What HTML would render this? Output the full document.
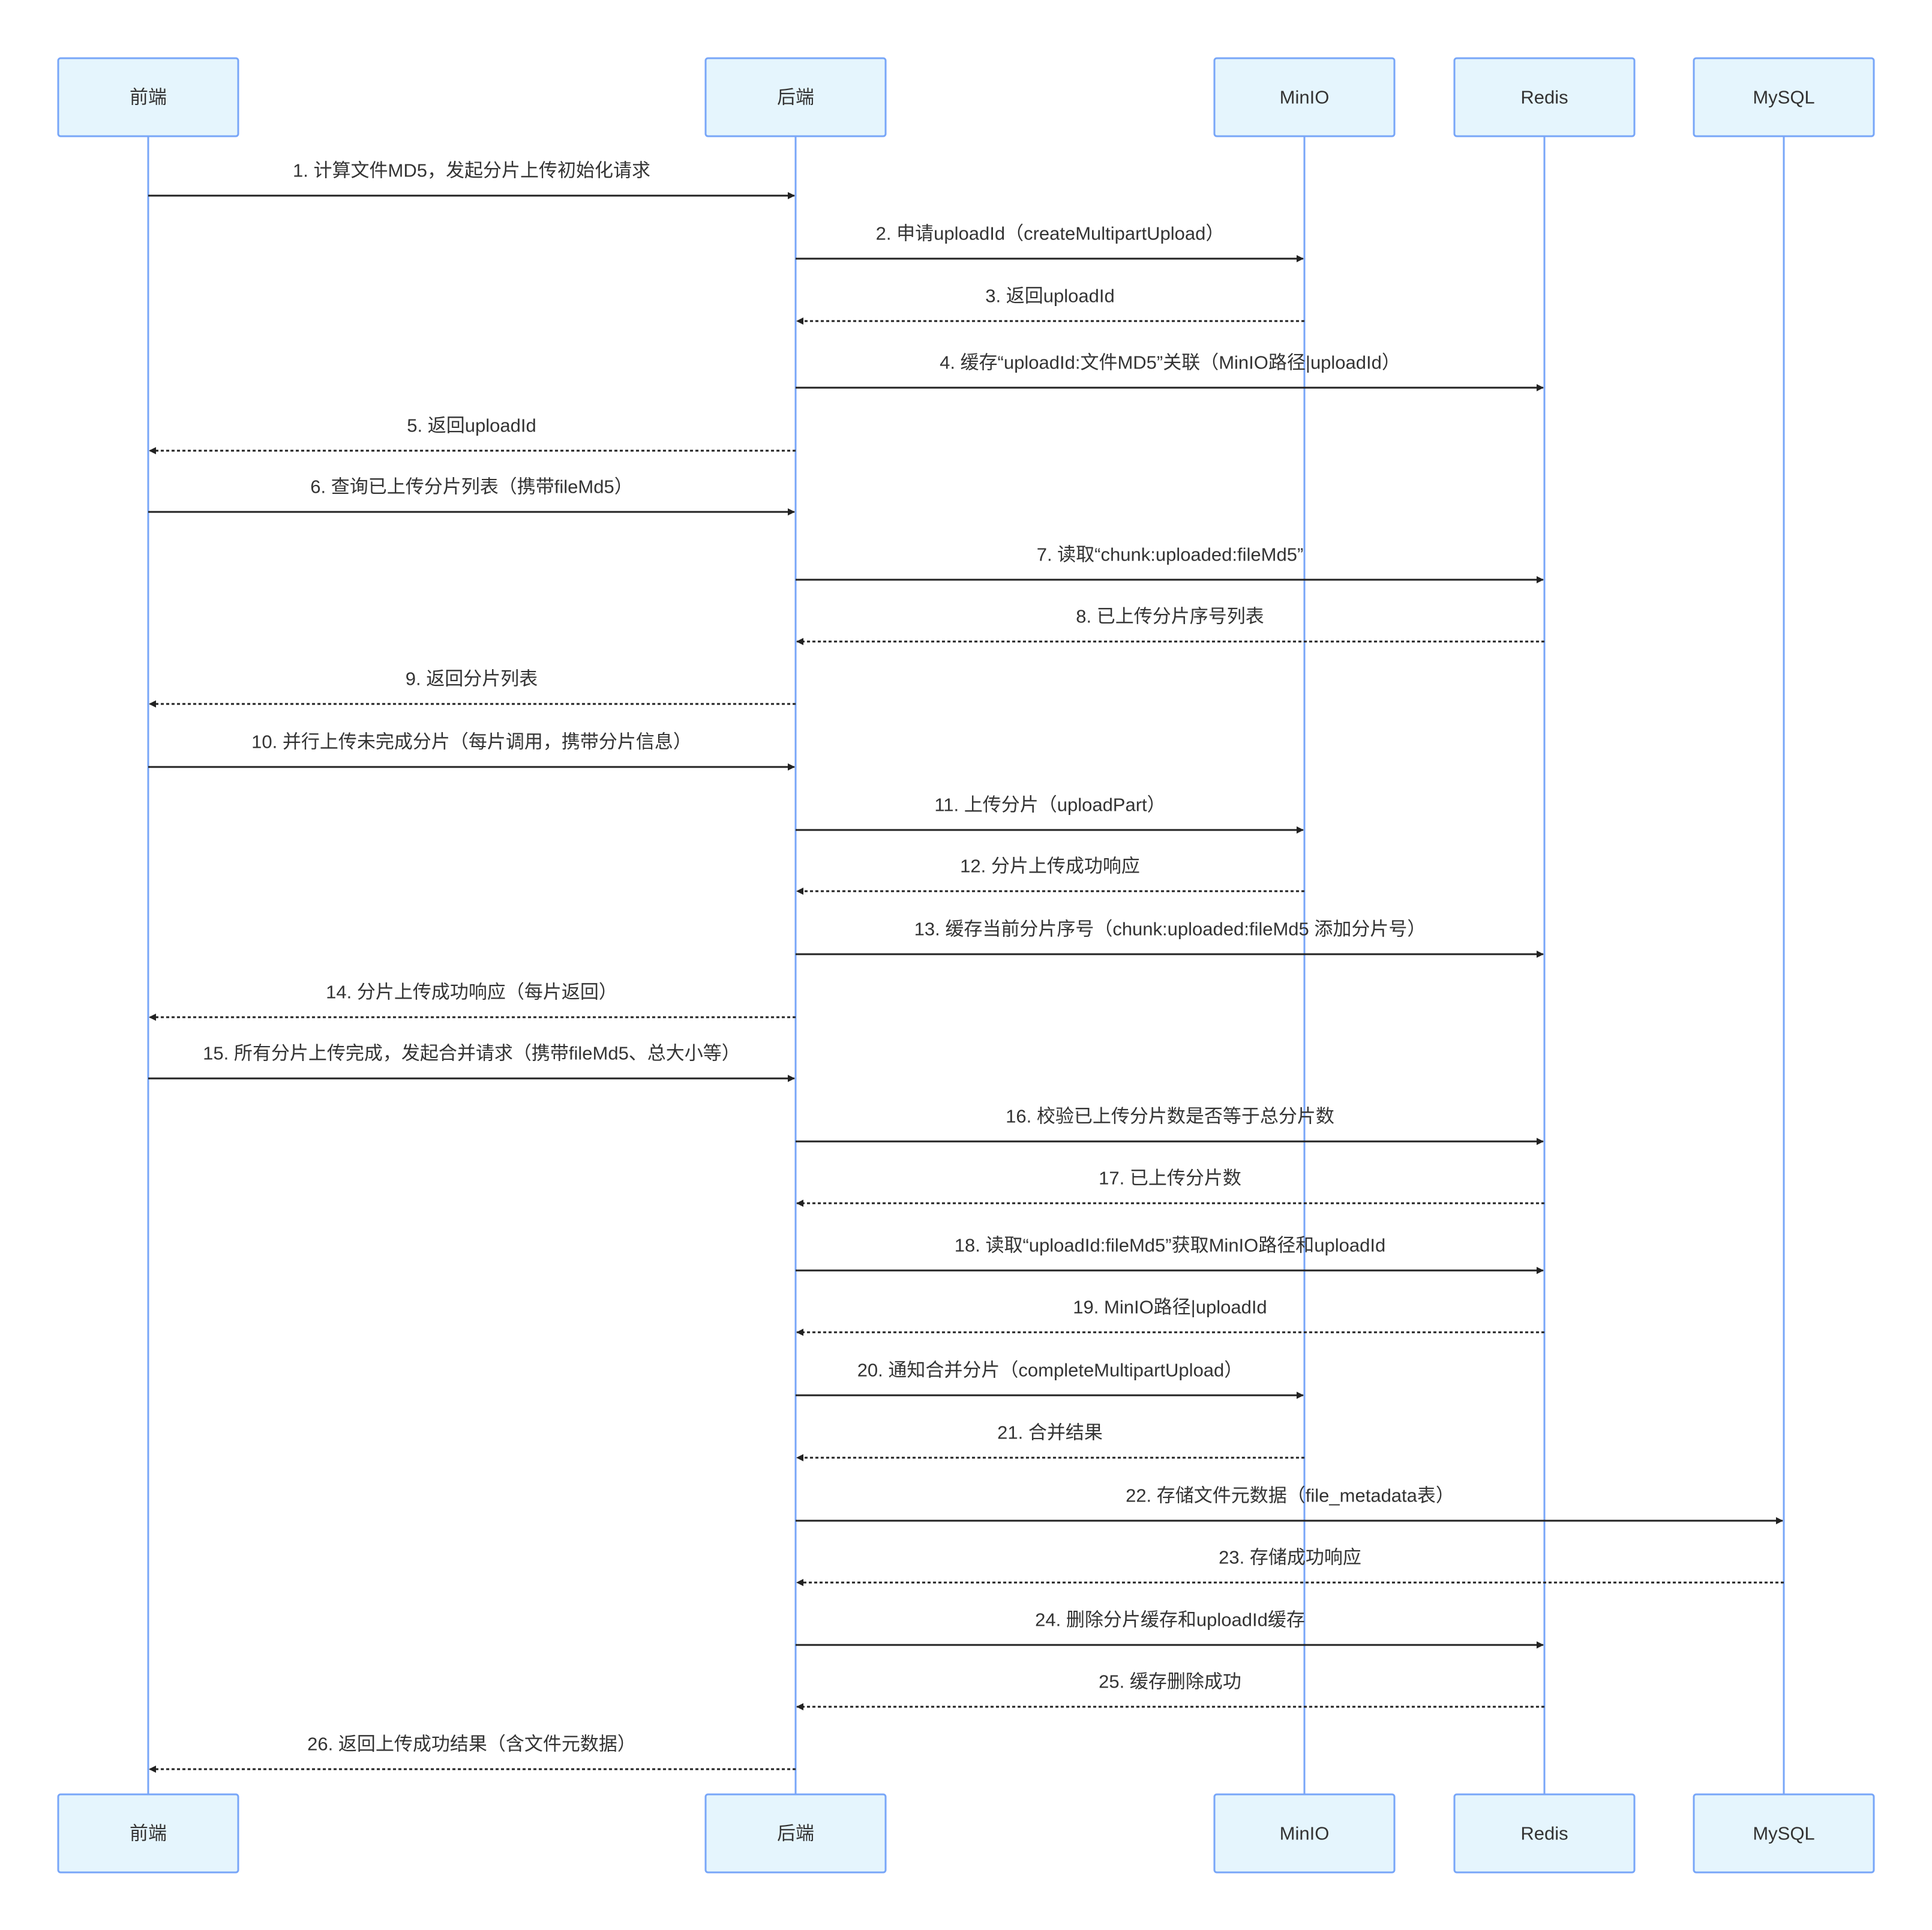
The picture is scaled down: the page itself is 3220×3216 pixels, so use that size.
<!DOCTYPE html>
<html><head><meta charset="utf-8"><style>
html,body{margin:0;padding:0;background:#fff}
svg{display:block}
text{font-family:"Liberation Sans","Noto Sans CJK SC",sans-serif;fill:#333}
</style></head><body>
<svg width="3220" height="3216" viewBox="0 0 3220 3216" xmlns="http://www.w3.org/2000/svg">
<defs>
<marker id="ah" markerWidth="12" markerHeight="12" refX="11" refY="6" orient="auto" markerUnits="userSpaceOnUse"><path d="M0,0 L12,6 L0,12 z" fill="#222"/></marker>
</defs>
<g stroke="#78a6f8" stroke-width="3">
<line x1="247" y1="227" x2="247" y2="2990"/>
<line x1="1326" y1="227" x2="1326" y2="2990"/>
<line x1="2174" y1="227" x2="2174" y2="2990"/>
<line x1="2574" y1="227" x2="2574" y2="2990"/>
<line x1="2973" y1="227" x2="2973" y2="2990"/>
</g>
<g fill="#e5f5fd" stroke="#78a6f8" stroke-width="3">
<rect x="97" y="97" width="300" height="130" rx="4"/>
<rect x="1176" y="97" width="300" height="130" rx="4"/>
<rect x="2024" y="97" width="300" height="130" rx="4"/>
<rect x="2424" y="97" width="300" height="130" rx="4"/>
<rect x="2823" y="97" width="300" height="130" rx="4"/>
<rect x="97" y="2990" width="300" height="130" rx="4"/>
<rect x="1176" y="2990" width="300" height="130" rx="4"/>
<rect x="2024" y="2990" width="300" height="130" rx="4"/>
<rect x="2424" y="2990" width="300" height="130" rx="4"/>
<rect x="2823" y="2990" width="300" height="130" rx="4"/>
</g>
<g font-size="31" text-anchor="middle" dominant-baseline="central">
<text x="247" y="162">前端</text><text x="1326" y="162">后端</text><text x="2174" y="162">MinIO</text><text x="2574" y="162">Redis</text><text x="2973" y="162">MySQL</text>
<text x="247" y="3055">前端</text><text x="1326" y="3055">后端</text><text x="2174" y="3055">MinIO</text><text x="2574" y="3055">Redis</text><text x="2973" y="3055">MySQL</text>
</g>
<g stroke="#222" stroke-width="3" fill="none" marker-end="url(#ah)">
<line x1="247" y1="326" x2="1324" y2="326"/>
<line x1="1326" y1="431" x2="2172" y2="431"/>
<line x1="2174" y1="535" x2="1328" y2="535" stroke-dasharray="5,4"/>
<line x1="1326" y1="646" x2="2572" y2="646"/>
<line x1="1326" y1="751" x2="249" y2="751" stroke-dasharray="5,4"/>
<line x1="247" y1="853" x2="1324" y2="853"/>
<line x1="1326" y1="966" x2="2572" y2="966"/>
<line x1="2574" y1="1069" x2="1328" y2="1069" stroke-dasharray="5,4"/>
<line x1="1326" y1="1173" x2="249" y2="1173" stroke-dasharray="5,4"/>
<line x1="247" y1="1278" x2="1324" y2="1278"/>
<line x1="1326" y1="1383" x2="2172" y2="1383"/>
<line x1="2174" y1="1485" x2="1328" y2="1485" stroke-dasharray="5,4"/>
<line x1="1326" y1="1590" x2="2572" y2="1590"/>
<line x1="1326" y1="1695" x2="249" y2="1695" stroke-dasharray="5,4"/>
<line x1="247" y1="1797" x2="1324" y2="1797"/>
<line x1="1326" y1="1902" x2="2572" y2="1902"/>
<line x1="2574" y1="2005" x2="1328" y2="2005" stroke-dasharray="5,4"/>
<line x1="1326" y1="2117" x2="2572" y2="2117"/>
<line x1="2574" y1="2220" x2="1328" y2="2220" stroke-dasharray="5,4"/>
<line x1="1326" y1="2325" x2="2172" y2="2325"/>
<line x1="2174" y1="2429" x2="1328" y2="2429" stroke-dasharray="5,4"/>
<line x1="1326" y1="2534" x2="2971" y2="2534"/>
<line x1="2973" y1="2637" x2="1328" y2="2637" stroke-dasharray="5,4"/>
<line x1="1326" y1="2741" x2="2572" y2="2741"/>
<line x1="2574" y1="2844" x2="1328" y2="2844" stroke-dasharray="5,4"/>
<line x1="1326" y1="2948" x2="249" y2="2948" stroke-dasharray="5,4"/>
</g>
<g font-size="31" text-anchor="middle" dominant-baseline="central">
<text x="786" y="284">1. 计算文件MD5，发起分片上传初始化请求</text>
<text x="1750" y="389">2. 申请uploadId（createMultipartUpload）</text>
<text x="1750" y="493">3. 返回uploadId</text>
<text x="1950" y="604">4. 缓存“uploadId:文件MD5”关联（MinIO路径|uploadId）</text>
<text x="786" y="709">5. 返回uploadId</text>
<text x="786" y="811">6. 查询已上传分片列表（携带fileMd5）</text>
<text x="1950" y="924">7. 读取“chunk:uploaded:fileMd5”</text>
<text x="1950" y="1027">8. 已上传分片序号列表</text>
<text x="786" y="1131">9. 返回分片列表</text>
<text x="786" y="1236">10. 并行上传未完成分片（每片调用，携带分片信息）</text>
<text x="1750" y="1341">11. 上传分片（uploadPart）</text>
<text x="1750" y="1443">12. 分片上传成功响应</text>
<text x="1950" y="1548">13. 缓存当前分片序号（chunk:uploaded:fileMd5 添加分片号）</text>
<text x="786" y="1653">14. 分片上传成功响应（每片返回）</text>
<text x="786" y="1755">15. 所有分片上传完成，发起合并请求（携带fileMd5、总大小等）</text>
<text x="1950" y="1860">16. 校验已上传分片数是否等于总分片数</text>
<text x="1950" y="1963">17. 已上传分片数</text>
<text x="1950" y="2075">18. 读取“uploadId:fileMd5”获取MinIO路径和uploadId</text>
<text x="1950" y="2178">19. MinIO路径|uploadId</text>
<text x="1750" y="2283">20. 通知合并分片（completeMultipartUpload）</text>
<text x="1750" y="2387">21. 合并结果</text>
<text x="2150" y="2492">22. 存储文件元数据（file_metadata表）</text>
<text x="2150" y="2595">23. 存储成功响应</text>
<text x="1950" y="2699">24. 删除分片缓存和uploadId缓存</text>
<text x="1950" y="2802">25. 缓存删除成功</text>
<text x="786" y="2906">26. 返回上传成功结果（含文件元数据）</text>
</g>
</svg>
</body></html>
